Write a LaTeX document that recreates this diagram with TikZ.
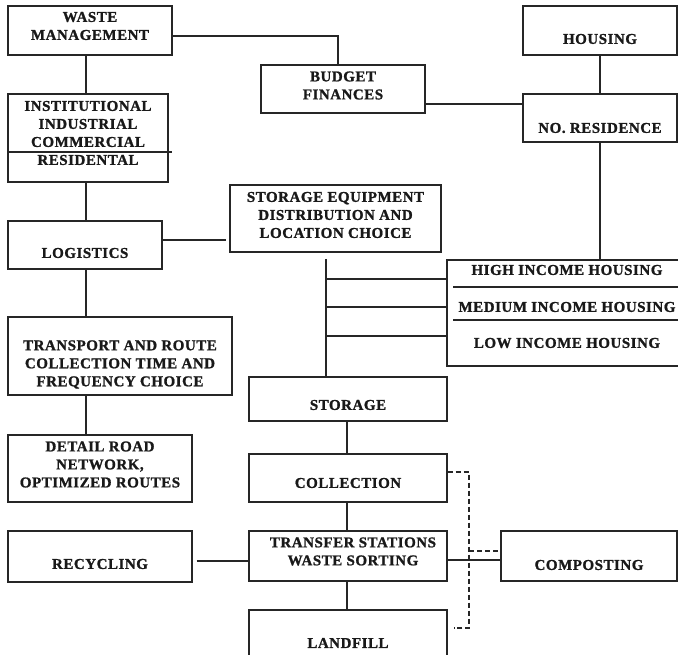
\documentclass[tikz,border=0pt]{standalone}
\usepackage{fontspec}
\newfontfamily\boxfont{Liberation Serif Bold}[LetterSpace=3.5, FakeBold=1.2]
\usetikzlibrary{positioning}

\begin{document}
\begin{tikzpicture}[x=1pt,y=-1pt,
  box/.style={draw=black!85, line width=1.2pt, inner sep=0pt},
  txt/.style={font=\boxfont\fontsize{15}{18}\selectfont, align=center, text=black!90},
  link/.style={draw=black!85, line width=1.2pt},
  dashlink/.style={link, line width=1.1pt, dash pattern=on 5pt off 3pt}]
\useasboundingbox (0,0) rectangle (678,655);
% left column
\node[box, minimum width=164, minimum height=49, label={[txt, yshift=4.5pt]center:WASTE\\MANAGEMENT}] (wm) at (90,30.5) {};
\node[box, minimum width=160, minimum height=88, label={[txt, yshift=5pt]center:INSTITUTIONAL\\INDUSTRIAL\\COMMERCIAL\\RESIDENTAL}] (inst) at (88,138) {};
\node[box, minimum width=154, minimum height=48, label={[txt, yshift=-8pt]center:LOGISTICS}] (logi) at (85,245) {};
\node[box, minimum width=224, minimum height=78, label={[txt, yshift=-8.5pt]center:TRANSPORT AND ROUTE\\COLLECTION TIME AND\\FREQUENCY CHOICE}] (trans) at (120,356) {};
\node[box, minimum width=184, minimum height=67, label={[txt, yshift=4pt]center:DETAIL ROAD\\NETWORK,\\OPTIMIZED ROUTES}] (detail) at (100,468.5) {};
\node[box, minimum width=184, minimum height=51, label={[txt, yshift=-7.5pt]center:RECYCLING}] (recyc) at (100,556.5) {};
% top and right
\node[box, minimum width=164, minimum height=48, label={[txt, yshift=3.5pt]center:BUDGET\\FINANCES}] (budget) at (343,89) {};
\node[box, minimum width=154, minimum height=49, label={[txt, yshift=-8.5pt]center:HOUSING}] (housing) at (600,30.5) {};
\node[box, minimum width=154, minimum height=48, label={[txt, yshift=-10pt]center:NO. RESIDENCE}] (nores) at (600,118) {};
\node[box, minimum width=211, minimum height=67, label={[txt, yshift=3.5pt]center:STORAGE EQUIPMENT\\DISTRIBUTION AND\\LOCATION CHOICE}] (storeq) at (335.5,218.5) {};
\node[box, minimum width=238, minimum height=106] (income) at (566,313) {};
\node[txt] (high) at (567,270) {HIGH INCOME HOUSING};
\node[txt] (medium) at (567,307) {MEDIUM INCOME HOUSING};
\node[txt] (low) at (567,343) {LOW INCOME HOUSING};
% middle column
\node[box, minimum width=198, minimum height=44, label={[txt, yshift=-6pt]center:STORAGE}] (storage) at (348,399) {};
\node[box, minimum width=198, minimum height=48, label={[txt, yshift=-5pt]center:COLLECTION}] (collect) at (348,478) {};
\node[box, minimum width=198, minimum height=50, label={[txt, xshift=5pt, yshift=4.5pt]center:TRANSFER STATIONS\\WASTE SORTING}] (transfer) at (348,556) {};
\node[box, minimum width=198, minimum height=52, label={[txt, yshift=-7pt]center:LANDFILL}] (landfill) at (348,636) {};
\node[box, minimum width=176, minimum height=50, label={[txt, yshift=-9pt]center:COMPOSTING}] (compost) at (589,556) {};

% dividers inside boxes
\draw[link] (inst.west |- 0,152) -- ([xshift=3pt]inst.east |- 0,152);
\draw[link] (453,287) -- (income.east |- 0,287);
\draw[link] (453,320) -- (income.east |- 0,320);

% connectors
\coordinate (lc) at (86,0);
\draw[link] (wm.south -| lc) -- (inst.north -| lc);
\draw[link] (inst.south -| lc) -- (logi.north -| lc);
\draw[link] (logi.south -| lc) -- (trans.north -| lc);
\draw[link] (trans.south -| lc) -- (detail.north -| lc);
\draw[link] ([yshift=-5.5pt]wm.east) -| ([xshift=-5pt]budget.north);
\draw[link] ([yshift=-15pt]budget.east) -- ([yshift=-15pt]budget.east -| nores.west);
\draw[link] (housing) -- (nores);
\draw[link] (nores.south) -- (nores.south |- income.north);
\draw[link] ([yshift=5pt]logi.east) -- ([yshift=5pt,xshift=-3pt]logi.east -| storeq.west);
\coordinate (bus) at (326,259);
\draw[link] (bus) -- (bus |- storage.north);
\foreach \y in {279,307,336}
  \draw[link] (bus |- 0,\y) -- (income.west |- 0,\y);
\draw[link] ([xshift=-1pt]storage.south) -- ([xshift=-1pt]collect.north);
\draw[link] ([xshift=-1pt]collect.south) -- ([xshift=-1pt]transfer.north);
\draw[link] ([xshift=-1pt]transfer.south) -- ([xshift=-1pt]landfill.north);
\draw[link] ([xshift=4pt,yshift=-4.5pt]recyc.east) -- ([yshift=-4.5pt]recyc.east -| transfer.west);
\draw[link] ([yshift=-4pt]transfer.east) -- ([yshift=-4pt]transfer.east -| compost.west);
% dashed feedback
\coordinate (dj) at (469,0);
\draw[dashlink] ([yshift=6pt]collect.east) -| (dj |- 0,628) -- ([xshift=6pt,yshift=8pt]landfill.east);
\draw[dashlink] (dj |- 0,551) -- (compost.west |- 0,551);
\end{tikzpicture}
\end{document}
